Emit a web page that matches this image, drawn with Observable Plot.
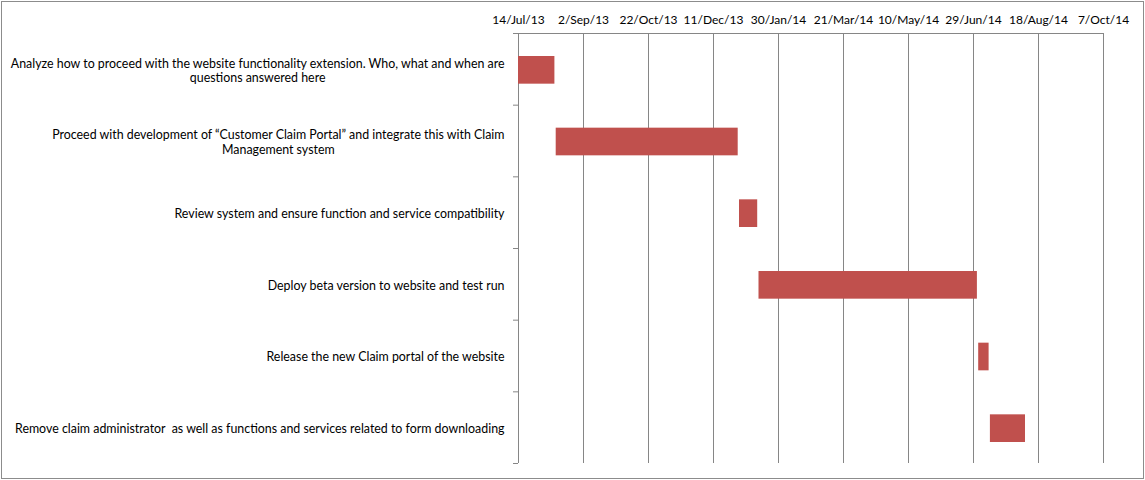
<!DOCTYPE html>
<html>
<head>
<meta charset="utf-8">
<script src="https://cdn.jsdelivr.net/npm/d3@7"></script>
<script src="https://cdn.jsdelivr.net/npm/@observablehq/plot@0.6"></script>
<style>
  html, body { margin: 0; padding: 0; background: #fff; }
  #wrap { position: relative; width: 1145px; height: 480px; }
  #border { position: absolute; left: 1px; top: 1px; width: 1143px; height: 478px; border: 1px solid #8c8c8c; box-sizing: border-box; pointer-events: none; }
  #chart svg { display: block; }
</style>
</head>
<body>
<div id="wrap"><div id="chart"></div><div id="border"></div></div>
<script>
// Task names (line breaks as in the reference)
const tasks = [
  "Analyze how to proceed with the website functionality extension. Who, what and when are\nquestions answered here",
  "Proceed with development of \u201cCustomer Claim Portal\u201d and integrate this with Claim\nManagement system",
  "Review system and ensure function and service compatibility",
  "Deploy beta version to website and test run",
  "Release the new Claim portal of the website",
  "Remove claim administrator  as well as functions and services related to form downloading"
];
const startDates = ["2013-07-14", "2013-08-12", "2013-12-31", "2014-01-15", "2014-07-03", "2014-07-12"];
const endDates   = ["2013-08-11", "2013-12-30", "2014-01-14", "2014-07-02", "2014-07-11", "2014-08-08"];
const tickDates = ["2013-07-14", "2013-09-02", "2013-10-22", "2013-12-11", "2014-01-30",
                   "2014-03-21", "2014-05-10", "2014-06-29", "2014-08-18", "2014-10-07"];

const parse = s => new Date(s + "T00:00:00Z");
const rows = tasks.map((t, i) => ({
  task: t, i, start: parse(startDates[i]), end: parse(endDates[i])
}));
const ticks = tickDates.map(parse);
const x0 = ticks[0], x1 = ticks[ticks.length - 1];
const fmt = d3.utcFormat("%-d/%b/%y");
const bounds = d3.range(tasks.length + 1);

const plot = Plot.plot({
  width: 1145,
  height: 480,
  marginLeft: 518,
  marginRight: 42,
  marginTop: 33,
  marginBottom: 17,
  style: { fontFamily: "Lato, 'Liberation Sans', sans-serif", fontSize: "12.4px", color: "#000", background: "transparent" },
  x: { type: "utc", domain: [x0, x1] },
  y: { domain: [0, tasks.length], reverse: true },
  marks: [
    Plot.ruleX(ticks, { x: d => d, y1: 0, y2: tasks.length, stroke: "#868686", strokeOpacity: 1 }),
    Plot.ruleY([0], { x1: x0, x2: x1, stroke: "#868686", strokeOpacity: 1 }),
    Plot.axisY({ ticks: bounds, tickFormat: () => "", tickSize: 5, stroke: "#868686", strokeOpacity: 1 }),
    Plot.axisX({ anchor: "top", ticks: ticks, tickFormat: fmt, tickSize: 0, tickPadding: 10, fontSize: 12, fill: "#000" }),
    Plot.rectX(rows, { x1: "start", x2: "end", y1: d => d.i, y2: d => d.i + 1, insetTop: 23, insetBottom: 21, fill: "#C0504D" }),
    Plot.text(rows, { x: x0, y: d => d.i + 0.5, text: "task", textAnchor: "end", dx: -14, dy: 1, lineHeight: 1.13, fill: "#000", className: "tasklabels" })
  ]
});
document.getElementById("chart").appendChild(plot);

// Center multi-line labels on their longest line (as in the reference)
plot.querySelectorAll(".tasklabels text").forEach(t => {
  const spans = t.querySelectorAll("tspan");
  if (spans.length > 1) {
    const w = d3.max(Array.from(spans), s => s.getComputedTextLength());
    t.setAttribute("text-anchor", "middle");
    spans.forEach(s => s.setAttribute("x", -w / 2));
  }
});
</script>
</body>
</html>
